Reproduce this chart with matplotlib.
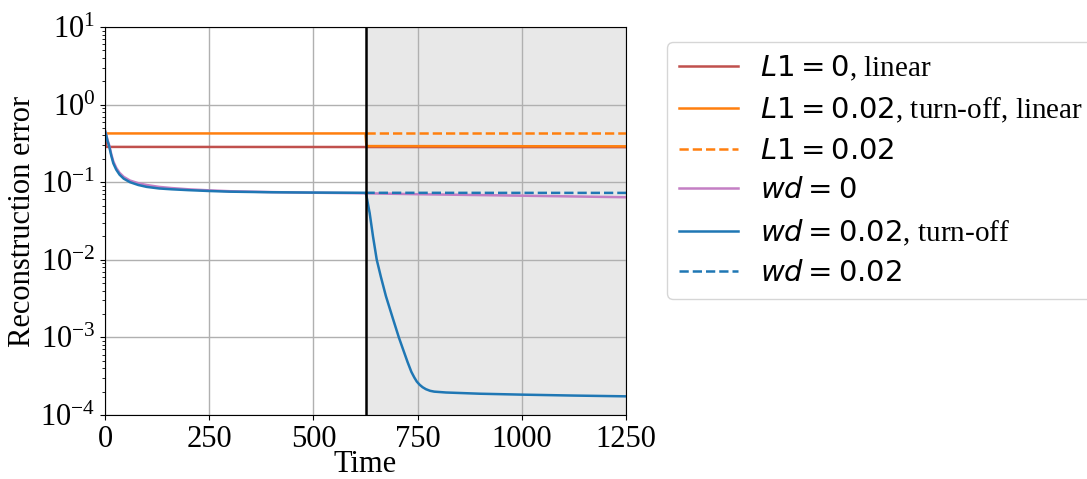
import matplotlib
matplotlib.use("Agg")
import matplotlib.pyplot as plt

plt.rcParams['font.family'] = 'serif'
plt.rcParams['font.serif'] = ['Liberation Serif', 'DejaVu Serif']
plt.rcParams['mathtext.fontset'] = 'dejavusans'
plt.rcParams['font.size'] = 22

# ---- data ----
turn_off = 625

# L1 = 0, linear
t_red = [0, 3, 1250]
y_red = [0.43, 0.285, 0.283]

# L1 = 0.02, turn-off, linear
t_orange = [0, 625, 627, 630, 1250]
y_orange = [0.425, 0.425, 0.30, 0.292, 0.29]

# L1 = 0.02 (no turn-off), after turn-off point
t_orange_d = [625, 1250]
y_orange_d = [0.425, 0.425]

# shared early part of the wd runs
t_pre = [0, 3, 6, 10, 15, 20, 27, 35, 45, 60, 80, 100, 130, 160, 200,
         250, 300, 400, 500, 625]
y_blue_pre = [0.46, 0.40, 0.34, 0.29, 0.22, 0.175, 0.145, 0.125, 0.111,
              0.100, 0.092, 0.087, 0.083, 0.081, 0.079, 0.077, 0.0755,
              0.0742, 0.0735, 0.073]
y_pink_pre = [0.46, 0.41, 0.35, 0.30, 0.23, 0.185, 0.153, 0.132, 0.117,
              0.105, 0.097, 0.092, 0.087, 0.084, 0.081, 0.0785, 0.0765,
              0.0745, 0.0732, 0.072]

# wd = 0
t_pink_post = [750, 875, 1000, 1125, 1250]
y_pink_post = [0.070, 0.0685, 0.067, 0.0655, 0.064]

# wd = 0.02, turn-off
t_blue_post = [627, 631, 635, 643, 652, 662, 674, 690, 705, 716, 726, 735,
               742, 748, 755, 762, 770, 780, 790, 818, 900, 1000, 1125, 1250]
y_blue_post = [0.068, 0.052, 0.040, 0.020, 0.010, 0.006, 0.0034, 0.0018,
               0.0010, 0.00068, 0.00048, 0.00036, 0.000305, 0.00027,
               0.000245, 0.000228, 0.000215, 0.000205, 0.0002, 0.000195,
               0.000188, 0.000183, 0.000178, 0.000174]

# wd = 0.02 (no turn-off)
t_blue_d = [625, 900, 1250]
y_blue_d = [0.073, 0.0729, 0.0728]

xticks = [0, 250, 500, 750, 1000, 1250]

# ---- plot ----
fig = plt.figure(figsize=(10.87, 4.79), dpi=100)
ax = fig.add_axes([105 / 1087, 64 / 479, 521 / 1087, 388 / 479])

ax.axvspan(turn_off, 1250, color='lightgray', alpha=0.5, lw=0, zorder=0)
ax.axvline(turn_off, color='black', lw=1.8, zorder=5)

ax.plot(t_red, y_red, color='#c0504d', lw=1.8, label=r'$L1=0$, linear')
ax.plot(t_orange, y_orange, color='#ff7f0e', lw=1.8,
        label=r'$L1=0.02$, turn-off, linear')
ax.plot(t_orange_d, y_orange_d, color='#ff7f0e', lw=1.8, ls='--',
        label=r'$L1=0.02$')
ax.plot(t_pre + t_pink_post, y_pink_pre + y_pink_post, color='#c47fc4',
        lw=1.8, label=r'$wd=0$')
ax.plot(t_pre + t_blue_post, y_blue_pre + y_blue_post, color='#1f77b4',
        lw=1.8, label=r'$wd=0.02$, turn-off')
ax.plot(t_blue_d, y_blue_d, color='#1f77b4', lw=1.8, ls='--',
        label=r'$wd=0.02$')

ax.set_yscale('log')
ax.set_ylim(1e-4, 1e1)
ax.set_xlim(0, 1250)
ax.set_xticks(xticks)
ax.grid(True, which='major', color='#b0b0b0', lw=1)
ax.set_axisbelow(True)
ax.set_xlabel('Time', labelpad=-3)
ax.set_ylabel('Reconstruction error', labelpad=2)

fig.legend(loc='upper left', bbox_to_anchor=(667 / 1087, 1 - 42 / 479),
           bbox_transform=fig.transFigure, borderaxespad=0, fontsize=21,
           labelspacing=0.45, handlelength=2.05, handletextpad=0.75)

fig.savefig('out.png', dpi=100)
